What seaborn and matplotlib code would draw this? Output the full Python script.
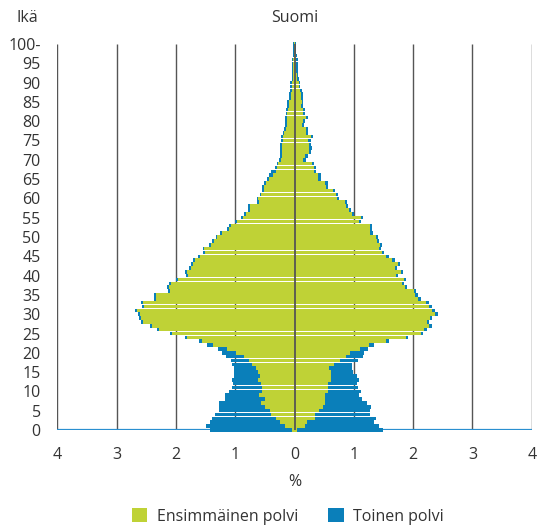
import numpy as np
import pandas as pd
import seaborn as sns
import matplotlib
matplotlib.use("Agg")
import matplotlib.pyplot as plt
from matplotlib.patches import Patch

# ---------------- data (percent of population) ----------------
ages = list(range(0, 101))

left_first = [0.04,0.16,0.24,0.31,0.40,0.41,0.50,0.56,0.50,0.60,
              0.55,0.55,0.56,0.62,0.58,0.62,0.65,0.72,0.77,0.85,
              0.99,1.14,1.37,1.56,1.81,2.07,2.28,2.40,2.55,2.59,
              2.61,2.66,2.54,2.55,2.34,2.34,2.10,2.12,2.09,1.97,
              1.80,1.82,1.75,1.72,1.68,1.60,1.51,1.52,1.41,1.36,
              1.30,1.23,1.11,1.07,0.97,0.87,0.82,0.75,0.75,0.60,
              0.61,0.56,0.52,0.52,0.48,0.43,0.36,0.32,0.29,0.27,
              0.23,0.21,0.21,0.21,0.21,0.20,0.19,0.17,0.14,0.13,
              0.13,0.13,0.12,0.11,0.10,0.09,0.06,0.06,0.05,0.05,
              0.05,0.03,0.03,0.02,0.02,0.02,0.02,0.01,0.01,0.01,0.01]

left_second = [1.38,1.33,1.18,1.08,0.94,0.86,0.77,0.71,0.67,0.57,
               0.55,0.50,0.48,0.43,0.44,0.40,0.37,0.33,0.30,0.31,
               0.23,0.15,0.11,0.05,0.04,0.03,0.04,0.04,0.04,0.03,
               0.03,0.03,0.03,0.04,0.03,0.03,0.03,0.03,0.03,0.03,
               0.03,0.03,0.03,0.03,0.03,0.03,0.03,0.03,0.03,0.03,
               0.03,0.03,0.03,0.03,0.03,0.03,0.03,0.04,0.03,0.03,
               0.03,0.03,0.03,0.03,0.03,0.03,0.07,0.08,0.04,0.03,
               0.03,0.03,0.03,0.03,0.03,0.03,0.03,0.03,0.03,0.03,
               0.03,0.03,0.03,0.03,0.03,0.03,0.03,0.03,0.02,0.02,
               0.02,0.02,0.02,0.02,0.02,0.02,0.02,0.02,0.01,0.01,0.01]

right_first = [0.04,0.18,0.21,0.35,0.35,0.41,0.48,0.51,0.51,0.51,
               0.56,0.56,0.56,0.62,0.62,0.62,0.58,0.67,0.77,0.87,
               0.94,1.10,1.26,1.54,1.88,2.13,2.18,2.27,2.23,2.29,
               2.37,2.32,2.27,2.22,2.08,2.03,2.01,1.86,1.81,1.84,
               1.71,1.79,1.69,1.74,1.65,1.55,1.47,1.42,1.44,1.39,
               1.37,1.28,1.27,1.27,1.08,1.12,0.97,0.92,0.87,0.85,
               0.71,0.70,0.65,0.53,0.52,0.40,0.40,0.33,0.33,0.29,
               0.15,0.18,0.24,0.25,0.24,0.23,0.28,0.19,0.20,0.13,
               0.14,0.19,0.14,0.14,0.11,0.12,0.11,0.11,0.09,0.07,
               0.07,0.05,0.04,0.03,0.03,0.03,0.03,0.03,0.01,0.01,0.01]

right_second = [1.45,1.24,1.13,1.02,0.92,0.86,0.81,0.71,0.63,0.58,
                0.56,0.51,0.49,0.47,0.43,0.37,0.39,0.30,0.30,0.28,
                0.23,0.14,0.08,0.05,0.03,0.04,0.05,0.05,0.04,0.03,
                0.05,0.05,0.05,0.05,0.05,0.05,0.04,0.04,0.04,0.04,
                0.04,0.04,0.04,0.04,0.04,0.04,0.04,0.04,0.04,0.04,
                0.04,0.04,0.04,0.04,0.04,0.04,0.04,0.04,0.04,0.04,
                0.04,0.04,0.04,0.04,0.04,0.04,0.04,0.04,0.04,0.04,
                0.04,0.04,0.03,0.04,0.03,0.04,0.04,0.03,0.03,0.03,
                0.03,0.03,0.03,0.03,0.03,0.03,0.03,0.03,0.03,0.03,
                0.03,0.02,0.02,0.03,0.03,0.03,0.03,0.02,0.01,0.01,0.02]

series_labels = ["Ensimmäinen polvi", "Toinen polvi"]
x_ticks = [-4, -3, -2, -1, 0, 1, 2, 3, 4]
y_ticks = list(range(0, 101, 5))
y_tick_labels = [str(v) for v in y_ticks[:-1]] + ["100-"]

GREEN = "#bfd236"
BLUE = "#0a7fba"
TEXT = "#333333"

# ---------------- figure ----------------
sns.set_style("white")
plt.rcParams["font.family"] = ["Open Sans", "DejaVu Sans"]
FS = 11.5

fig = plt.figure(figsize=(5.37, 5.31), dpi=100)
ax = fig.add_axes([57.3 / 537, 1 - 430 / 531, (531.7 - 57.3) / 537, (430 - 44) / 531])

df = pd.DataFrame({
    "age": ages,
    "lf": left_first, "ls": left_second,
    "rf": right_first, "rs": right_second,
})
df["left_total"] = -(df["lf"] + df["ls"])
df["left_first"] = -df["lf"]
df["right_total"] = df["rf"] + df["rs"]
df["right_first"] = df["rf"]

for col, c in [("left_total", BLUE), ("left_first", GREEN),
               ("right_total", BLUE), ("right_first", GREEN)]:
    sns.barplot(data=df, x=col, y="age", orient="y", native_scale=True,
                color=c, saturation=1, width=0.93, linewidth=0,
                errorbar=None, ax=ax)

for p in ax.patches:
    p.set_clip_on(False)
    p.set_antialiased(False)
    p.set_zorder(2)

# grid lines
ax.vlines([t for t in x_ticks if t != 0], 0, 100, color="#555555", lw=1.0, zorder=0.5)
ax.vlines([0], 0, 100, color="#555555", lw=1.3, zorder=5)
ax.hlines([0], -4, 4, color="#2a8fd0", lw=1.6, zorder=1)

ax.set_xlim(-4, 4)
ax.set_ylim(0, 100)
for s in ax.spines.values():
    s.set_visible(False)

ax.set_xticks(x_ticks)
ax.set_xticklabels([str(abs(t)) for t in x_ticks], fontsize=FS, color=TEXT)
ax.set_yticks(y_ticks)
ax.set_yticklabels(y_tick_labels, fontsize=FS, color=TEXT)
ax.tick_params(axis="both", length=0)
ax.tick_params(axis="x", pad=12)
ax.tick_params(axis="y", pad=12)
ax.set_xlabel("")
ax.set_ylabel("")
ax.grid(False)

fig.text(294.5 / 537, 1 - 18 / 531, "Suomi", ha="center", va="center", fontsize=FS, color=TEXT)
fig.text(17 / 537, 1 - 18 / 531, "Ikä", ha="left", va="center", fontsize=FS, color=TEXT)
fig.text(294.5 / 537, 1 - 482 / 531, "%", ha="center", va="center", fontsize=FS, color=TEXT)

handles = [Patch(facecolor=GREEN, edgecolor="none"), Patch(facecolor=BLUE, edgecolor="none")]
leg = fig.legend(handles, series_labels, loc="center", bbox_to_anchor=(288 / 537, 1 - 516.5 / 531),
                 ncol=2, frameon=False, fontsize=FS, handlelength=0.95, handleheight=0.95,
                 handletextpad=0.6, columnspacing=1.9)
for t in leg.get_texts():
    t.set_color(TEXT)

fig.savefig("out.png", dpi=100)
